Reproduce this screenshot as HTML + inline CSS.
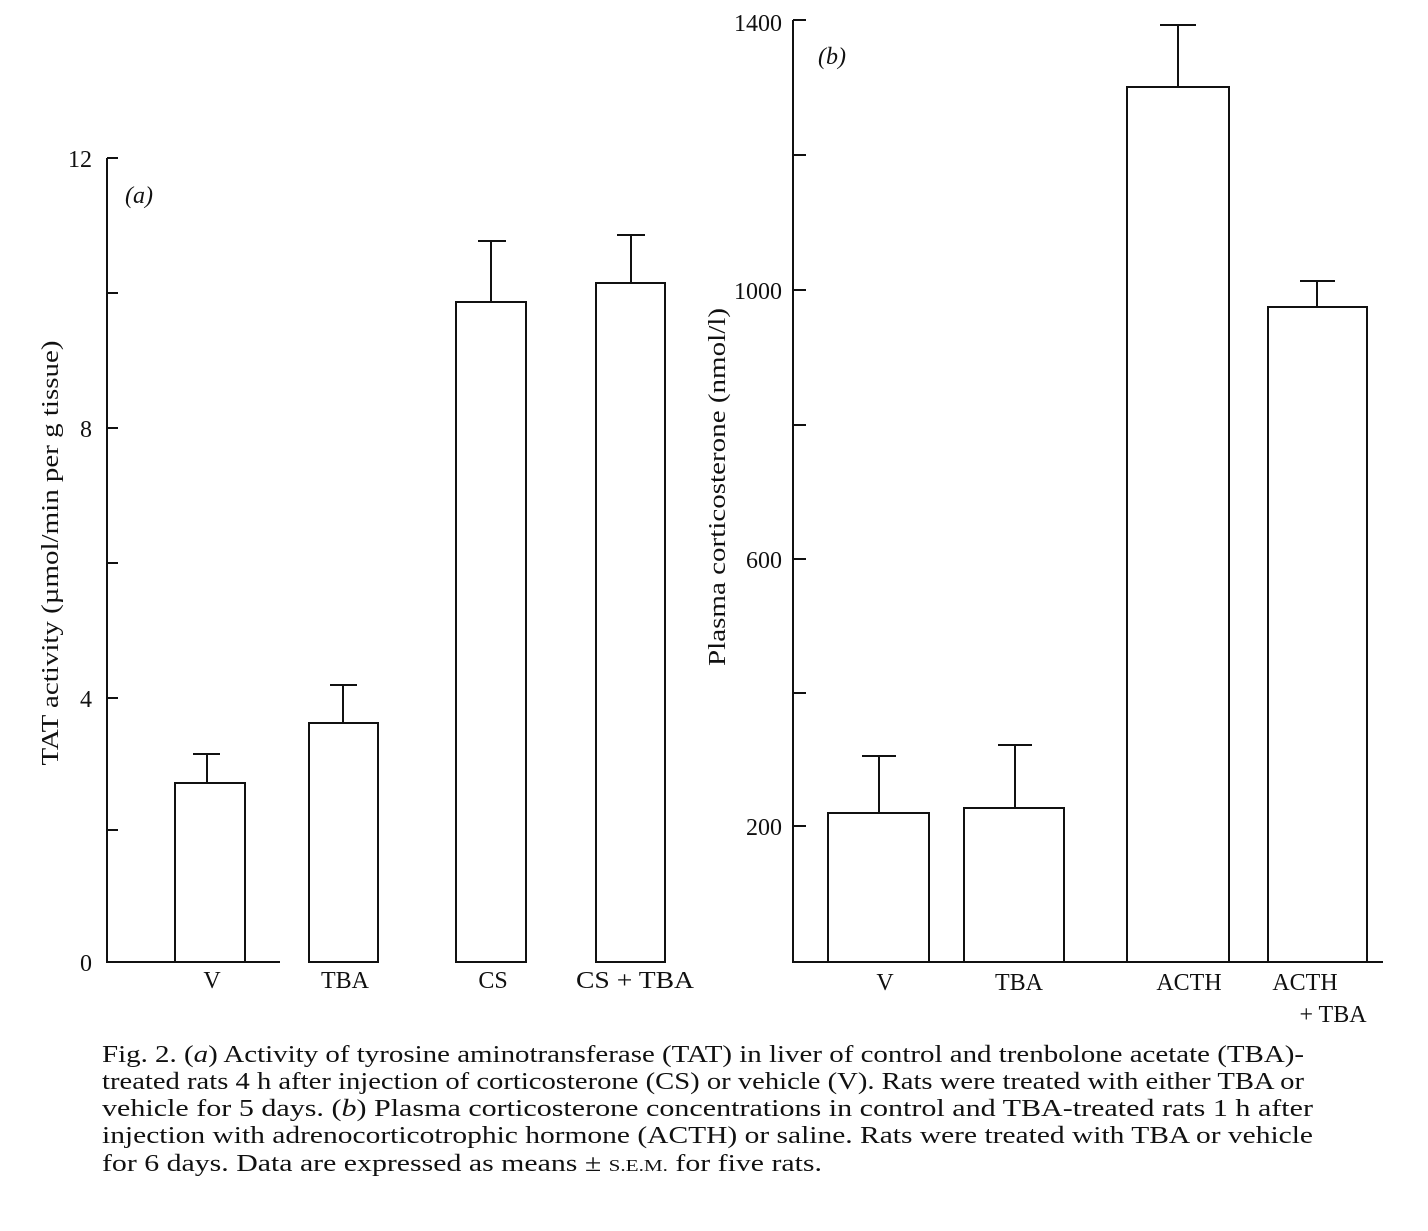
<!DOCTYPE html>
<html><head><meta charset="utf-8"><style>
body{margin:0;background:#fff;}
svg text{font-family:"Liberation Serif",serif;fill:#111;}
</style></head><body>
<svg width="1428" height="1226" viewBox="0 0 1428 1226" xmlns="http://www.w3.org/2000/svg">
<g stroke="#111" stroke-width="2" fill="none">
<line x1="107" y1="158" x2="107" y2="963"/>
<line x1="106" y1="962" x2="280" y2="962"/>
<line x1="107" y1="158" x2="118" y2="158"/>
<line x1="107" y1="293" x2="118" y2="293"/>
<line x1="107" y1="428" x2="118" y2="428"/>
<line x1="107" y1="563" x2="118" y2="563"/>
<line x1="107" y1="698" x2="118" y2="698"/>
<line x1="107" y1="830" x2="118" y2="830"/>
<rect x="175" y="783" width="70" height="179"/>
<rect x="309" y="723" width="69" height="239"/>
<rect x="456" y="302" width="70" height="660"/>
<rect x="596" y="283" width="69" height="679"/>
<line x1="207" y1="783" x2="207" y2="754"/><line x1="193" y1="754" x2="220" y2="754"/>
<line x1="343" y1="723" x2="343" y2="685"/><line x1="330" y1="685" x2="357" y2="685"/>
<line x1="491" y1="302" x2="491" y2="241"/><line x1="478" y1="241" x2="506" y2="241"/>
<line x1="631" y1="283" x2="631" y2="235"/><line x1="617" y1="235" x2="645" y2="235"/>
<line x1="793" y1="20" x2="793" y2="963"/>
<line x1="792" y1="962" x2="1383" y2="962"/>
<line x1="793" y1="20" x2="806" y2="20"/>
<line x1="793" y1="155" x2="806" y2="155"/>
<line x1="793" y1="290" x2="806" y2="290"/>
<line x1="793" y1="425" x2="806" y2="425"/>
<line x1="793" y1="559" x2="806" y2="559"/>
<line x1="793" y1="693" x2="806" y2="693"/>
<line x1="793" y1="826" x2="806" y2="826"/>
<rect x="828" y="813" width="101" height="149"/>
<rect x="964" y="808" width="100" height="154"/>
<rect x="1127" y="87" width="102" height="875"/>
<rect x="1268" y="307" width="99" height="655"/>
<line x1="879" y1="813" x2="879" y2="756"/><line x1="862" y1="756" x2="896" y2="756"/>
<line x1="1015" y1="808" x2="1015" y2="745"/><line x1="998" y1="745" x2="1032" y2="745"/>
<line x1="1178" y1="87" x2="1178" y2="25"/><line x1="1160" y1="25" x2="1196" y2="25"/>
<line x1="1317" y1="307" x2="1317" y2="281"/><line x1="1300" y1="281" x2="1335" y2="281"/>
</g>
<g font-size="24">
<text x="92" y="167" text-anchor="end">12</text>
<text x="92" y="437" text-anchor="end">8</text>
<text x="92" y="707" text-anchor="end">4</text>
<text x="92" y="971" text-anchor="end">0</text>
<text x="125" y="203" font-style="italic">(a)</text>
<text transform="translate(58,553) rotate(-90)" text-anchor="middle" textLength="425" lengthAdjust="spacingAndGlyphs">TAT activity (µmol/min per g tissue)</text>
<text x="212" y="988" text-anchor="middle">V</text>
<text x="345" y="988" text-anchor="middle">TBA</text>
<text x="493" y="988" text-anchor="middle">CS</text>
<text x="635" y="988" text-anchor="middle" textLength="118" lengthAdjust="spacingAndGlyphs">CS + TBA</text>
<text x="782" y="31" text-anchor="end">1400</text>
<text x="782" y="299" text-anchor="end">1000</text>
<text x="782" y="568" text-anchor="end">600</text>
<text x="782" y="835" text-anchor="end">200</text>
<text x="818" y="64" font-style="italic">(b)</text>
<text transform="translate(725,487) rotate(-90)" text-anchor="middle" textLength="358" lengthAdjust="spacingAndGlyphs">Plasma corticosterone (nmol/l)</text>
<text x="885" y="990" text-anchor="middle">V</text>
<text x="1019" y="990" text-anchor="middle">TBA</text>
<text x="1189" y="990" text-anchor="middle">ACTH</text>
<text x="1305" y="990" text-anchor="middle">ACTH</text>
<text x="1333" y="1022" text-anchor="middle">+ TBA</text>
</g>
<g font-size="24">
<text x="102" y="1062" textLength="1202" lengthAdjust="spacingAndGlyphs">Fig. 2. (<tspan font-style="italic">a</tspan>) Activity of tyrosine aminotransferase (TAT) in liver of control and trenbolone acetate (TBA)-</text>
<text x="102" y="1089" textLength="1202" lengthAdjust="spacingAndGlyphs">treated rats 4 h after injection of corticosterone (CS) or vehicle (V). Rats were treated with either TBA or</text>
<text x="102" y="1116" textLength="1211" lengthAdjust="spacingAndGlyphs">vehicle for 5 days. (<tspan font-style="italic">b</tspan>) Plasma corticosterone concentrations in control and TBA-treated rats 1 h after</text>
<text x="102" y="1143" textLength="1211" lengthAdjust="spacingAndGlyphs">injection with adrenocorticotrophic hormone (ACTH) or saline. Rats were treated with TBA or vehicle</text>
<text x="102" y="1171" textLength="720" lengthAdjust="spacingAndGlyphs">for 6 days. Data are expressed as means ± <tspan font-size="17">S.E.M.</tspan> for five rats.</text>
</g>
</svg>
</body></html>
